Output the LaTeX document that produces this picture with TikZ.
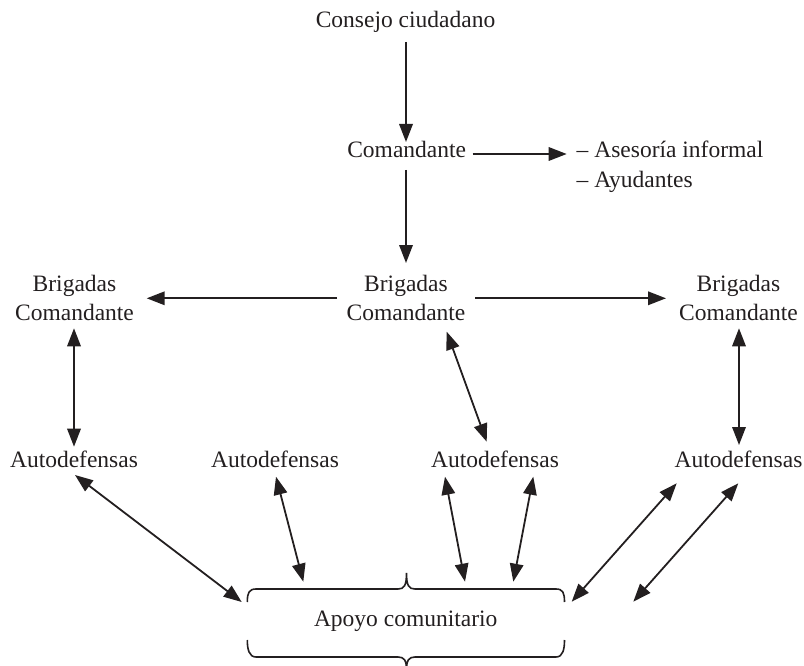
\documentclass[tikz,border=0pt]{standalone}
\usepackage{fontspec}
\setmainfont{Liberation Serif}
\usetikzlibrary{arrows.meta}
\definecolor{ink}{RGB}{35,31,32}
\tikzset{
  txt/.style={inner sep=0pt, outer sep=0pt, font=\fontsize{23.5}{28}\selectfont, text=ink},
  onearrow/.style={line width=1.8pt, draw=ink, -{Triangle[length=18pt,width=13.5pt]}},
  twoarrow/.style={line width=1.8pt, draw=ink, {Triangle[length=18pt,width=13.5pt]}-{Triangle[length=18pt,width=13.5pt]}},
  bracepath/.style={line width=1.6pt, draw=ink},
}
\begin{document}
\begin{tikzpicture}[x=1pt,y=-1pt]
\useasboundingbox (0,0) rectangle (804,666);
% nodes
\node[txt,anchor=base] (cc) at (405.5,28) {Consejo ciudadano};
\node[txt,anchor=base] (com) at (406.7,158) {Comandante};
\node[txt,anchor=base west] (ase1) at (576.7,158) {– Asesoría informal};
\node[txt,anchor=base west] (ase2) at (576.7,188) {– Ayudantes};
\node[txt,anchor=base] (bL1) at (74.5,291.7) {Brigadas};
\node[txt,anchor=base] (bL2) at (74.5,320) {Comandante};
\node[txt,anchor=base] (bM1) at (406,291.7) {Brigadas};
\node[txt,anchor=base] (bM2) at (406,320) {Comandante};
\node[txt,anchor=base] (bR1) at (738.5,291.7) {Brigadas};
\node[txt,anchor=base] (bR2) at (738.5,320) {Comandante};
\node[txt,anchor=base] (a1) at (74,467) {Autodefensas};
\node[txt,anchor=base] (a2) at (275,467) {Autodefensas};
\node[txt,anchor=base] (a3) at (495,467) {Autodefensas};
\node[txt,anchor=base] (a4) at (738.5,467) {Autodefensas};
\node[txt,anchor=base] (apoyo) at (405.7,626.7) {Apoyo comunitario};
% braces
\draw[bracepath] (247.3,602) .. controls (247.3,593) and (249,589) .. (256,589) -- (398,589)
  .. controls (404,589) and (406.5,586) .. (406.5,573) .. controls (406.5,586) and (409,589) .. (415,589)
  -- (556,589) .. controls (563,589) and (564.5,593) .. (564.5,602);
\draw[bracepath] (247.3,640) .. controls (247.3,649) and (249,657) .. (256,657) -- (398,657)
  .. controls (404,657) and (406.5,660) .. (406.5,670) .. controls (406.5,660) and (409,657) .. (415,657)
  -- (556,657) .. controls (563,657) and (564.5,649) .. (564.5,640);
% connectors
\draw[onearrow] ([shift={(0.5,14)}]cc.base) -- ([shift={(-0.7,-16)}]com.base);
\draw[onearrow] ([shift={(66,-4)}]com.base) -- ([shift={(-10,-4)}]ase1.base west);
\draw[onearrow] ([shift={(-0.7,12)}]com.base) -- ([shift={(0,-28.7)}]bM1.base);
\draw[onearrow] ([shift={(-69,6.6)}]bM1.base) -- ([shift={(72.2,6.6)}]bL1.base);
\draw[onearrow] ([shift={(69,6.6)}]bM1.base) -- ([shift={(-72.5,6.6)}]bR1.base);
\draw[twoarrow] ([shift={(-0.5,8.3)}]bL2.base) -- ([shift={(0,-20.3)}]a1.base);
\draw[twoarrow] ([shift={(40.7,11.7)}]bM2.base) -- ([shift={(-8.3,-25.3)}]a3.base);
\draw[twoarrow] ([shift={(0.5,8.3)}]bR2.base) -- ([shift={(0.5,-22)}]a4.base);
\draw[twoarrow] ([shift={(1,8)}]a1.base) -- ([shift={(-164,-24.7)}]apoyo.base);
\draw[twoarrow] ([shift={(1,9.7)}]a2.base) -- ([shift={(-102.4,-45)}]apoyo.base);
\draw[twoarrow] ([shift={(-50,9.7)}]a3.base) -- ([shift={(59.3,-45)}]apoyo.base);
\draw[twoarrow] ([shift={(38.3,9.7)}]a3.base) -- ([shift={(107.6,-45)}]apoyo.base);
\draw[twoarrow] ([shift={(-61.8,16.3)}]a4.base) -- ([shift={(166,-25)}]apoyo.base);
\draw[twoarrow] ([shift={(-0.2,16.3)}]a4.base) -- ([shift={(227.6,-25)}]apoyo.base);
\end{tikzpicture}
\end{document}
